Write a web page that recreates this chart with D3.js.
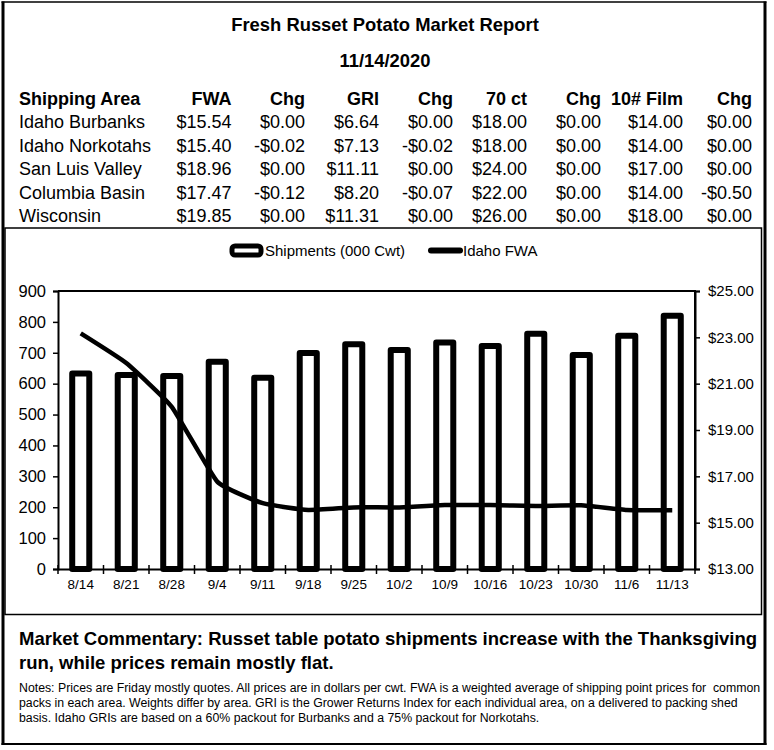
<!DOCTYPE html>
<html>
<head>
<meta charset="utf-8">
<script src="https://cdn.jsdelivr.net/npm/d3@7"></script>
<style>
  html, body { margin: 0; padding: 0; background: #fff; }
  svg { display: block; }
  text { font-family: "Liberation Sans", Arial, sans-serif; fill: #000; }
</style>
</head>
<body>
<div id="chart"></div>
<script>
// ---------- DATA ----------
const title = "Fresh Russet Potato Market Report";
const reportDate = "11/14/2020";

const tableHeaders = ["Shipping Area", "FWA", "Chg", "GRI", "Chg", "70 ct", "Chg", "10# Film", "Chg"];
const areas = ["Idaho Burbanks", "Idaho Norkotahs", "San Luis Valley", "Columbia Basin", "Wisconsin"];
const fwa      = ["$15.54", "$15.40", "$18.96", "$17.47", "$19.85"];
const fwaChg   = ["$0.00", "-$0.02", "$0.00", "-$0.12", "$0.00"];
const gri      = ["$6.64", "$7.13", "$11.11", "$8.20", "$11.31"];
const griChg   = ["$0.00", "-$0.02", "$0.00", "-$0.07", "$0.00"];
const ct70     = ["$18.00", "$18.00", "$24.00", "$22.00", "$26.00"];
const ct70Chg  = ["$0.00", "$0.00", "$0.00", "$0.00", "$0.00"];
const film10   = ["$14.00", "$14.00", "$17.00", "$14.00", "$18.00"];
const film10Chg= ["$0.00", "$0.00", "$0.00", "-$0.50", "$0.00"];

const weeks = ["8/14","8/21","8/28","9/4","9/11","9/18","9/25","10/2","10/9","10/16","10/23","10/30","11/6","11/13"];
const shipments = [633, 628, 625, 671, 619, 699, 728, 709, 733, 722, 762, 693, 755, 820];
const idahoFWA  = [23.17, 21.89, 20.00, 16.77, 15.84, 15.55, 15.66, 15.66, 15.76, 15.76, 15.72, 15.75, 15.55, 15.54];

const leftTicks  = [0, 100, 200, 300, 400, 500, 600, 700, 800, 900];
const rightTicks = [13, 15, 17, 19, 21, 23, 25];
const legendLabels = ["Shipments (000 Cwt)", "Idaho FWA"];

const commentary = [
  "Market Commentary: Russet table potato shipments increase with the Thanksgiving",
  "run, while prices remain mostly flat."
];
const notes = [
  "Notes: Prices are Friday mostly quotes. All prices are in dollars per cwt. FWA is a weighted average of shipping point prices for  common",
  "packs in each area. Weights differ by area. GRI is the Grower Returns Index for each individual area, on a delivered to packing shed",
  "basis. Idaho GRIs are based on a 60% packout for Burbanks and a 75% packout for Norkotahs."
];

// ---------- LAYOUT ----------
const W = 774, H = 750;
const svg = d3.select("#chart").append("svg").attr("width", W).attr("height", H);
svg.append("rect").attr("width", W).attr("height", H).attr("fill", "#fff");

// outer frame
const frame = svg.append("g").attr("stroke", "#000").attr("fill", "none");
frame.append("line").attr("x1", 3).attr("x2", 3).attr("y1", 1.5).attr("y2", 745).attr("stroke-width", 3);
frame.append("line").attr("x1", 1.5).attr("x2", 766.5).attr("y1", 2).attr("y2", 2).attr("stroke-width", 1.5);
frame.append("line").attr("x1", 765).attr("x2", 765).attr("y1", 1.5).attr("y2", 745).attr("stroke-width", 3);
frame.append("line").attr("x1", 1.5).attr("x2", 766.5).attr("y1", 744).attr("y2", 744).attr("stroke-width", 2);

// titles
svg.append("text").attr("x", 385).attr("y", 31).attr("text-anchor", "middle")
  .style("font-size", "18.4px").style("font-weight", "bold").text(title);
svg.append("text").attr("x", 385).attr("y", 67).attr("text-anchor", "middle")
  .style("font-size", "18.4px").style("font-weight", "bold").text(reportDate);

// table
const colRight = [null, 231.5, 305, 379, 453, 527, 601, 683, 752];
const columns = [areas, fwa, fwaChg, gri, griChg, ct70, ct70Chg, film10, film10Chg];
const headerY = 105, rowY0 = 128.3, rowStep = 23.4;
const tbl = svg.append("g").style("font-size", "18px");
tableHeaders.forEach((h, i) => {
  tbl.append("text")
    .attr("x", i === 0 ? 19 : colRight[i])
    .attr("y", headerY)
    .attr("text-anchor", i === 0 ? "start" : "end")
    .style("font-weight", "bold")
    .text(h);
});
columns.forEach((col, i) => {
  col.forEach((v, r) => {
    tbl.append("text")
      .attr("x", i === 0 ? 19 : colRight[i])
      .attr("y", rowY0 + r * rowStep)
      .attr("text-anchor", i === 0 ? "start" : "end")
      .text(v);
  });
});

// chart box
svg.append("rect").attr("x", 5).attr("y", 228).attr("width", 756.5).attr("height", 386.5)
  .attr("fill", "#fff").attr("stroke", "#000").attr("stroke-width", 1.5);

// scales
const plot = { left: 58, right: 695, top: 291, bottom: 569 };
const x = d3.scaleBand().domain(weeks).range([plot.left, plot.right]).padding(0);
const yL = d3.scaleLinear().domain([0, 900]).range([plot.bottom, plot.top]);
const yR = d3.scaleLinear().domain([13, 25]).range([plot.bottom, plot.top]);

// bars
const barW = x.bandwidth() * 0.375;
svg.append("g").selectAll("rect").data(weeks).join("rect")
  .attr("x", d => x(d) + (x.bandwidth() - barW) / 2)
  .attr("y", (d, i) => yL(shipments[i]))
  .attr("width", barW)
  .attr("height", (d, i) => yL(0) - yL(shipments[i]))
  .attr("fill", "#fff").attr("stroke", "#000").attr("stroke-width", 6)
  .attr("stroke-linejoin", "round");

// plot border (top and right)
svg.append("path")
  .attr("d", `M${plot.left},${plot.top}H${plot.right}V${plot.bottom}`)
  .attr("fill", "none").attr("stroke", "#000").attr("stroke-width", 2);

// left axis
const gL = svg.append("g").attr("transform", `translate(${plot.left},0)`)
  .call(d3.axisLeft(yL).tickValues(leftTicks).tickSize(5).tickPadding(7).tickFormat(d3.format("d")));
gL.select(".domain").attr("stroke-width", 2);
gL.selectAll(".tick line").attr("stroke-width", 1.5);
gL.selectAll(".tick text").style("font-size", "16.5px").style("font-family", "'Liberation Sans', Arial, sans-serif");

// right axis
const gR = svg.append("g").attr("transform", `translate(${plot.right},0)`)
  .call(d3.axisRight(yR).tickValues(rightTicks).tickSize(5).tickPadding(8).tickFormat(d => "$" + d3.format(".2f")(d)));
gR.select(".domain").attr("stroke-width", 2);
gR.selectAll(".tick line").attr("stroke-width", 1.5);
gR.selectAll(".tick text").style("font-size", "15px").style("font-family", "'Liberation Sans', Arial, sans-serif");

// bottom axis
const gB = svg.append("g").attr("transform", `translate(0,${plot.bottom})`)
  .call(d3.axisBottom(x).tickSize(0).tickPadding(10));
gB.select(".domain").attr("stroke-width", 2);
gB.selectAll(".tick text").style("font-size", "13.5px").style("font-family", "'Liberation Sans', Arial, sans-serif");
const boundaries = weeks.map(d => x(d)).concat([plot.right]);
gB.selectAll(".bnd").data(boundaries).join("line")
  .attr("x1", d => d).attr("x2", d => d).attr("y1", -4).attr("y2", 5)
  .attr("stroke", "#000").attr("stroke-width", 1.5);

// line
const line = d3.line()
  .x((d, i) => x(weeks[i]) + x.bandwidth() / 2)
  .y(d => yR(d))
  .curve(d3.curveCardinal.tension(0.6));
svg.append("path").datum(idahoFWA).attr("d", line)
  .attr("fill", "none").attr("stroke", "#000").attr("stroke-width", 4.5)
  .attr("stroke-linejoin", "round");

// legend
const lg = svg.append("g").style("font-size", "15px");
lg.append("rect").attr("x", 232).attr("y", 246).attr("width", 29).attr("height", 9).attr("rx", 3)
  .attr("fill", "#fff").attr("stroke", "#000").attr("stroke-width", 5);
lg.append("text").attr("x", 265).attr("y", 255.5).text(legendLabels[0]);
lg.append("line").attr("x1", 431).attr("x2", 460).attr("y1", 250.5).attr("y2", 250.5)
  .attr("stroke", "#000").attr("stroke-width", 6).attr("stroke-linecap", "round");
lg.append("text").attr("x", 463).attr("y", 255.5).text(legendLabels[1]);

// commentary
commentary.forEach((t, i) => {
  svg.append("text").attr("x", 19).attr("y", 645 + i * 23.5)
    .style("font-size", "18.5px").style("font-weight", "bold").text(t);
});
notes.forEach((t, i) => {
  svg.append("text").attr("x", 19).attr("y", 691.5 + i * 15.3)
    .attr("xml:space", "preserve").style("white-space", "pre")
    .style("font-size", "12.3px").text(t);
});
</script>
</body>
</html>
